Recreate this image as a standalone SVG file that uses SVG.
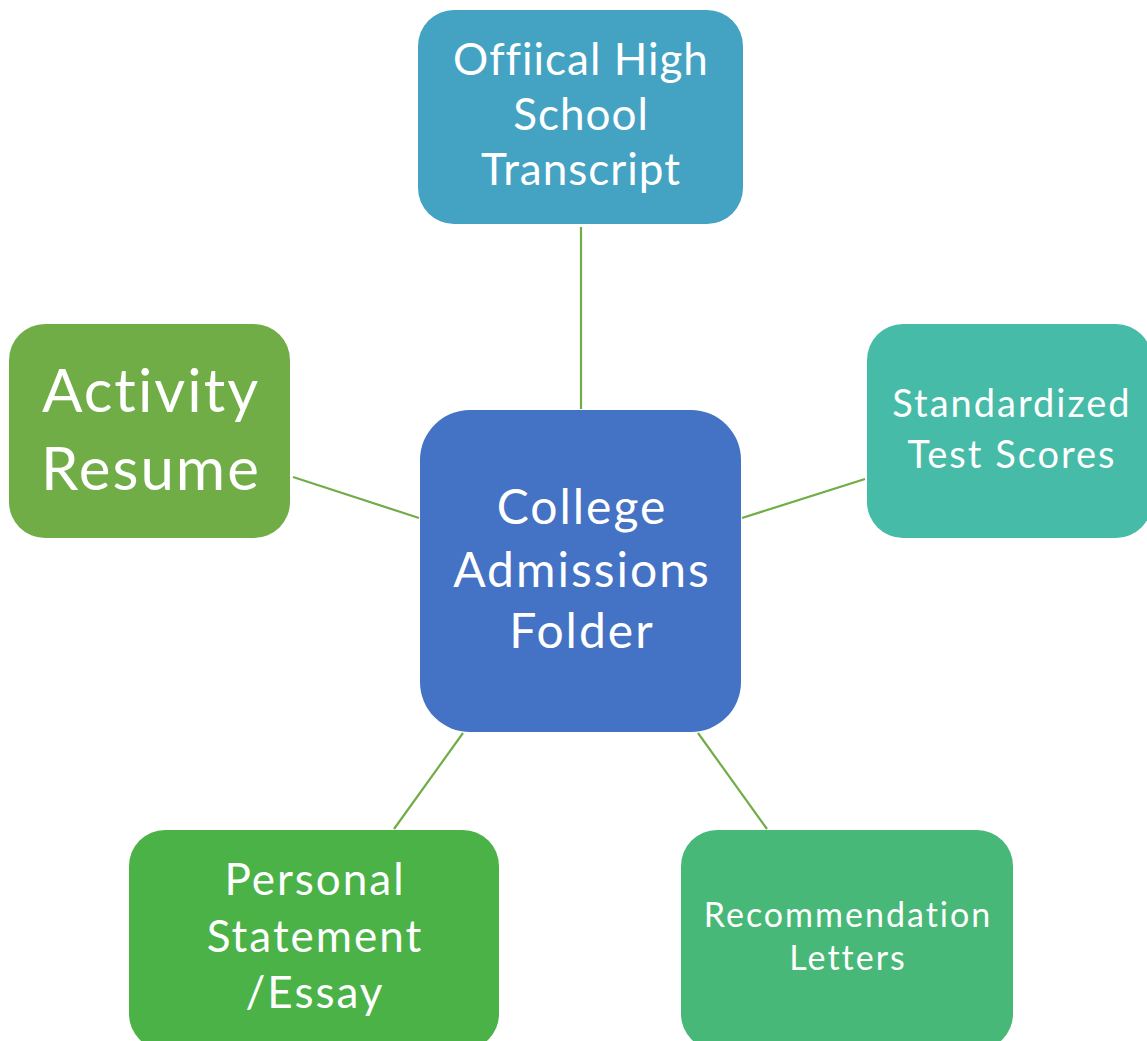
<svg xmlns="http://www.w3.org/2000/svg" width="1147" height="1041" viewBox="0 0 1147 1041">
  <style>
    .lbl { font-family: Lato, "Open Sans", "Liberation Sans", sans-serif; fill: #ffffff; text-anchor: middle; letter-spacing: 2px; font-variant-ligatures: none; font-feature-settings: "liga" 0; }
    .tight { letter-spacing: 1px; }
    .link { stroke: #70AD47; stroke-width: 2.2; fill: none; }
  </style>
  <rect width="1147" height="1041" fill="#ffffff"/>

  <g id="connectors">
    <line class="link" x1="581" y1="227" x2="581" y2="409"/>
    <line class="link" x1="293" y1="477" x2="419" y2="518"/>
    <line class="link" x1="742" y1="518" x2="865" y2="479"/>
    <line class="link" x1="463" y1="733" x2="394" y2="829"/>
    <line class="link" x1="698" y1="733" x2="767" y2="829"/>
  </g>

  <g id="node-transcript">
    <rect x="418" y="10" width="325" height="214" rx="36" fill="#44A3C2"/>
    <text class="lbl tight" font-size="44" x="581" y="75">Offiical High</text>
    <text class="lbl tight" font-size="44" x="581" y="130">School</text>
    <text class="lbl tight" font-size="44" x="581" y="185">Transcript</text>
  </g>

  <g id="node-folder">
    <rect x="420" y="410" width="321" height="322" rx="50" fill="#4472C4"/>
    <text class="lbl" font-size="48" x="582" y="524">College</text>
    <text class="lbl" font-size="48" x="582" y="587">Admissions</text>
    <text class="lbl" font-size="48" x="582" y="648">Folder</text>
  </g>

  <g id="node-resume">
    <rect x="9" y="324" width="281" height="214" rx="36" fill="#70AD47"/>
    <text class="lbl" font-size="60" x="151" y="412">Activity</text>
    <text class="lbl" font-size="60" x="151" y="490">Resume</text>
  </g>

  <g id="node-scores">
    <rect x="867" y="324" width="285" height="214" rx="36" fill="#46BBA7"/>
    <text class="lbl" font-size="38" x="1012" y="417">Standardized</text>
    <text class="lbl" font-size="38" x="1012" y="468">Test Scores</text>
  </g>

  <g id="node-essay">
    <rect x="129" y="830" width="370" height="220" rx="36" fill="#4AB247"/>
    <text class="lbl" font-size="44" x="315" y="895">Personal</text>
    <text class="lbl" font-size="44" x="315" y="952">Statement</text>
    <text class="lbl" font-size="44" x="315" y="1008">/Essay</text>
  </g>

  <g id="node-letters">
    <rect x="681" y="830" width="332" height="220" rx="36" fill="#47B877"/>
    <text class="lbl" font-size="34" x="848" y="927">Recommendation</text>
    <text class="lbl" font-size="34" x="848" y="970">Letters</text>
  </g>
</svg>
